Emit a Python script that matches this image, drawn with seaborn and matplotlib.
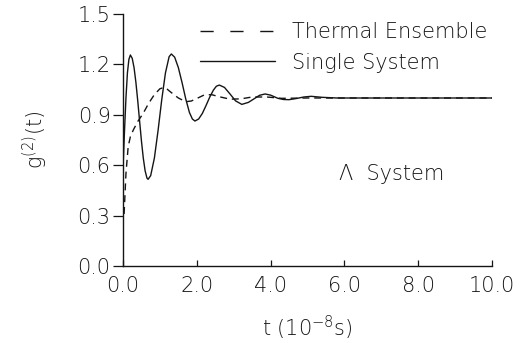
import pandas as pd
import matplotlib
matplotlib.use("Agg")
import matplotlib.pyplot as plt
from matplotlib.lines import Line2D
from matplotlib.ticker import FormatStrFormatter
import seaborn as sns

# values
thermal_t = [0.03, 0.08, 0.14, 0.20, 0.28, 0.40, 0.55, 0.70, 0.85, 1.00, 1.10,
             1.20, 1.35, 1.50, 1.70, 1.85, 2.00, 2.20, 2.40, 2.60, 2.90, 3.20,
             3.50, 3.90, 4.30, 5.00, 6.00, 8.00, 10.00]
thermal_g = [0.31, 0.55, 0.71, 0.77, 0.81, 0.86, 0.91, 0.97, 1.02, 1.055, 1.062,
             1.052, 1.025, 1.000, 0.978, 0.982, 0.997, 1.018, 1.020, 1.008, 0.993, 0.995,
             1.006, 1.006, 0.998, 1.000, 1.000, 1.000, 1.000]

single_t = [0.00, 0.04, 0.08, 0.12, 0.16, 0.20, 0.25, 0.30, 0.35, 0.40, 0.45,
            0.50, 0.55, 0.60, 0.65, 0.68, 0.75, 0.85, 0.95, 1.00, 1.05, 1.15,
            1.25, 1.31, 1.40, 1.50, 1.60, 1.70, 1.80, 1.88, 1.95, 2.05, 2.15,
            2.25, 2.35, 2.45, 2.53, 2.61, 2.75, 2.90, 3.05, 3.22, 3.40, 3.55,
            3.70, 3.85, 4.00, 4.20, 4.35, 4.50, 4.70, 4.90, 5.10, 5.40, 5.80,
            6.50, 8.00, 10.00]
single_g = [0.58, 0.80, 1.00, 1.15, 1.23, 1.256, 1.236, 1.180, 1.092, 0.982, 0.862,
            0.744, 0.642, 0.566, 0.523, 0.516, 0.538, 0.642, 0.806, 0.898, 0.990, 1.149,
            1.246, 1.262, 1.243, 1.181, 1.092, 0.995, 0.914, 0.875, 0.863, 0.875, 0.908,
            0.955, 1.005, 1.047, 1.070, 1.077, 1.063, 1.024, 0.983, 0.962, 0.974, 0.995,
            1.016, 1.024, 1.017, 0.998, 0.991, 0.990, 0.997, 1.006, 1.010, 1.004, 1.000,
            1.000, 1.000, 1.000]

x_ticks = [0, 2, 4, 6, 8, 10]
y_ticks = [0.0, 0.3, 0.6, 0.9, 1.2, 1.5]
series_names = ["Thermal Ensemble", "Single System"]

ink = "#151515"
fs = 15

sns.set_style("ticks")
plt.rcParams["font.family"] = ["DejaVu Sans"]
plt.rcParams["font.weight"] = "light"
plt.rcParams["axes.labelweight"] = "light"
plt.rcParams["mathtext.fontset"] = "custom"
plt.rcParams["mathtext.rm"] = "DejaVu Sans:light"
plt.rcParams["mathtext.it"] = "DejaVu Sans:light"
plt.rcParams["mathtext.default"] = "regular"

thermal = pd.DataFrame({"t": thermal_t, "g": thermal_g})
single = pd.DataFrame({"t": single_t, "g": single_g})

fig = plt.figure(figsize=(5.26, 3.43), dpi=100)
ax = fig.add_axes([123 / 526, 1 - 266 / 343, 369 / 526, 252 / 343])

sns.lineplot(data=thermal, x="t", y="g", ax=ax, color=ink, lw=1.0,
             linestyle=(0, (5, 3.5)), sort=False)
sns.lineplot(data=single, x="t", y="g", ax=ax, color=ink, lw=1.0, sort=False)

ax.set_xlim(0, 10)
ax.set_ylim(0, 1.5)
ax.set_xticks(x_ticks)
ax.set_yticks(y_ticks)
ax.xaxis.set_major_formatter(FormatStrFormatter("%.1f"))
ax.yaxis.set_major_formatter(FormatStrFormatter("%.1f"))
ax.tick_params(axis="x", direction="in", length=4, width=0.9, pad=7,
               labelsize=fs, colors=ink)
ax.tick_params(axis="y", direction="out", length=7, width=0.9, pad=2,
               labelsize=fs, colors=ink)
sns.despine(ax=ax)
for side in ["left", "bottom"]:
    ax.spines[side].set_linewidth(1.0)
    ax.spines[side].set_color(ink)

ax.set_xlabel("t (10$^{-8}$s)", fontsize=fs, color=ink, labelpad=13,
              fontweight="light")
ax.set_ylabel("g$^{(2)}$(t)", fontsize=fs, color=ink, labelpad=20,
              fontweight="light")

ax.text(5.85, 0.55, "\u039b  System", fontsize=fs, color=ink,
        ha="left", va="center", fontweight="light")

handles = [Line2D([], [], color=ink, lw=1.0, linestyle=(0, (9.5, 12))),
           Line2D([], [], color=ink, lw=1.0)]
fig.legend(handles, series_names, loc="center left",
           bbox_to_anchor=(200 / 526, 1 - 47.5 / 343), frameon=False,
           fontsize=fs, handlelength=3.6, handletextpad=0.8,
           labelspacing=0.5, borderpad=0, borderaxespad=0,
           labelcolor=ink)

fig.savefig("out.png", dpi=100)
